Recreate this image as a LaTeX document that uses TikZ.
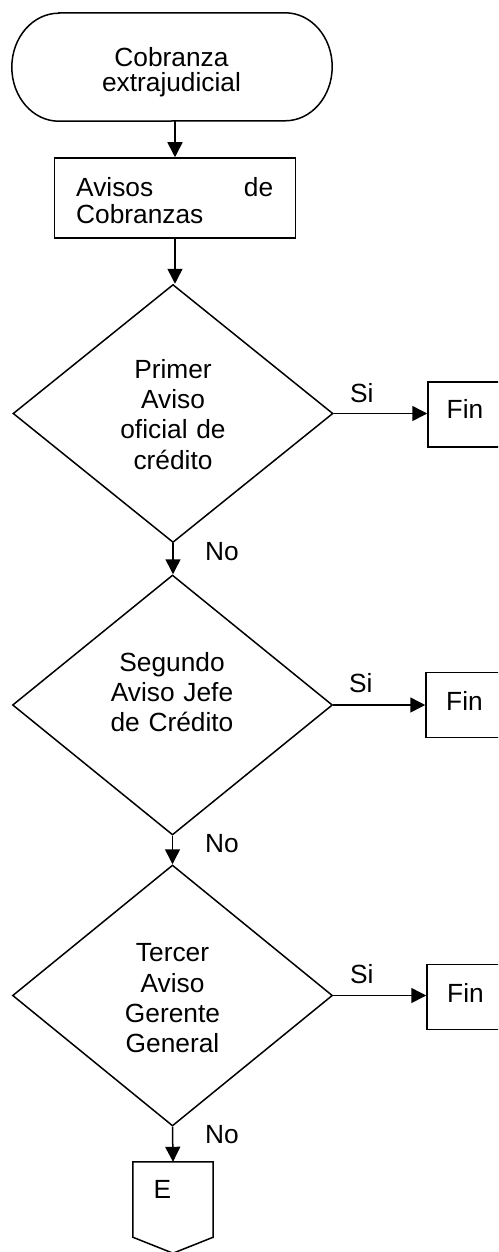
\documentclass[tikz,border=0pt]{standalone}
\usepackage{fontspec}
\setmainfont{Liberation Sans}
\usetikzlibrary{shapes.geometric,arrows.meta}

\begin{document}
\begin{tikzpicture}[x=1pt,y=-1pt,
  line/.style={line width=1.5pt, line join=miter},
  flow/.style={line, -{Triangle[length=15pt,width=15pt]}},
  lbl/.style={inner sep=0pt, font=\fontsize{26.3}{30.3}\selectfont},
  block/.style={text width=#1, align=center, inner sep=0pt, font=\fontsize{26.3}{30.3}\selectfont},
  decision/.style={diamond, draw, line width=1.5pt, minimum width=320pt, minimum height=#1, inner sep=0pt},
  finbox/.style={draw, line width=1.5pt, minimum width=90pt, minimum height=65pt, inner sep=0pt},
  frame/.style={inner sep=0pt}
]
\useasboundingbox (0,0) rectangle (498,1252);
\clip (0,0) rectangle (498,1252);

% start terminal
\node[frame, minimum width=320pt, minimum height=108pt] (term) at (172,67) {};
\draw[line] ([xshift=47pt]term.north west) -- ([xshift=-47pt]term.north east)
  arc[start angle=90, end angle=-90, x radius=47pt, y radius=54pt]
  -- ([xshift=47pt]term.south west)
  arc[start angle=270, end angle=90, x radius=47pt, y radius=54pt] -- cycle;
\node[block=240pt, font=\fontsize{26.3}{25}\selectfont, anchor=base] (termtext) at (171.5,67) {Cobranza\\extrajudicial};

% process box
\node[draw, line width=1.5pt, minimum width=241pt, minimum height=80pt, inner sep=0pt] (avisos) at (175,198) {};
\node[block=197pt, align=left, font=\fontsize{26.3}{26.6}\selectfont, anchor=base west] (avisostext) at (76,196.7) {Avisos\hspace{\fill}de\\Cobranzas};

% decisions
\node[decision=258pt] (d1) at (173,413.5) {};
\node[decision=260pt] (d2) at (172.5,705) {};
\node[decision=261pt] (d3) at (172.5,995.5) {};
\node[block=170pt, anchor=base] (d1text) at (173,378.3) {Primer\\Aviso\\oficial de\\crédito};
\node[block=170pt, anchor=base] (d2text) at (172,671) {Segundo\\Aviso Jefe\\de Crédito};
\node[block=170pt, anchor=base] (d3text) at (172.5,961.7) {Tercer\\Aviso\\Gerente\\General};

% end boxes
\node[finbox] (fin1) at (473,414.5) {};
\node[finbox] (fin2) at (471,705) {};
\node[finbox] (fin3) at (472,997) {};
\node[lbl, anchor=base west] (fin1text) at (446.5,418) {Fin};
\node[lbl, anchor=base west] (fin2text) at (446,710) {Fin};
\node[lbl, anchor=base west] (fin3text) at (447,1002) {Fin};

% off-page connector
\node[frame, minimum width=80pt, minimum height=75pt] (econ) at (173,1199.5) {};
\draw[line] (econ.south west) -- (econ.north west) -- (econ.north east)
  -- (econ.south east) -- ([yshift=-16pt]econ.south) -- cycle;
\node[lbl, anchor=base west] (etext) at (153.5,1198) {E};

% branch labels
\node[lbl, anchor=base west] (si1) at (350,402) {Si};
\node[lbl, anchor=base west] (si2) at (349,692) {Si};
\node[lbl, anchor=base west] (si3) at (350,983) {Si};
\node[lbl, anchor=base west] (no1) at (205,560) {No};
\node[lbl, anchor=base west] (no2) at (205,852) {No};
\node[lbl, anchor=base west] (no3) at (205,1143) {No};

% connectors
\draw[flow] (avisos.north |- term.south) -- (avisos.north);
\draw[flow] (avisos.south) -- (avisos.south |- d1.north);
\draw[flow] (d1.south) -- (d1.south |- d2.north);
\draw[flow] (d2.south) -- (d3.north);
\draw[flow] (d3.south) -- (econ.north);
\draw[flow] (d1.east) -- (d1.east -| fin1.west);
\draw[flow] (d2.east) -- (d2.east -| fin2.west);
\draw[flow] (d3.east) -- (d3.east -| fin3.west);
\end{tikzpicture}
\end{document}
